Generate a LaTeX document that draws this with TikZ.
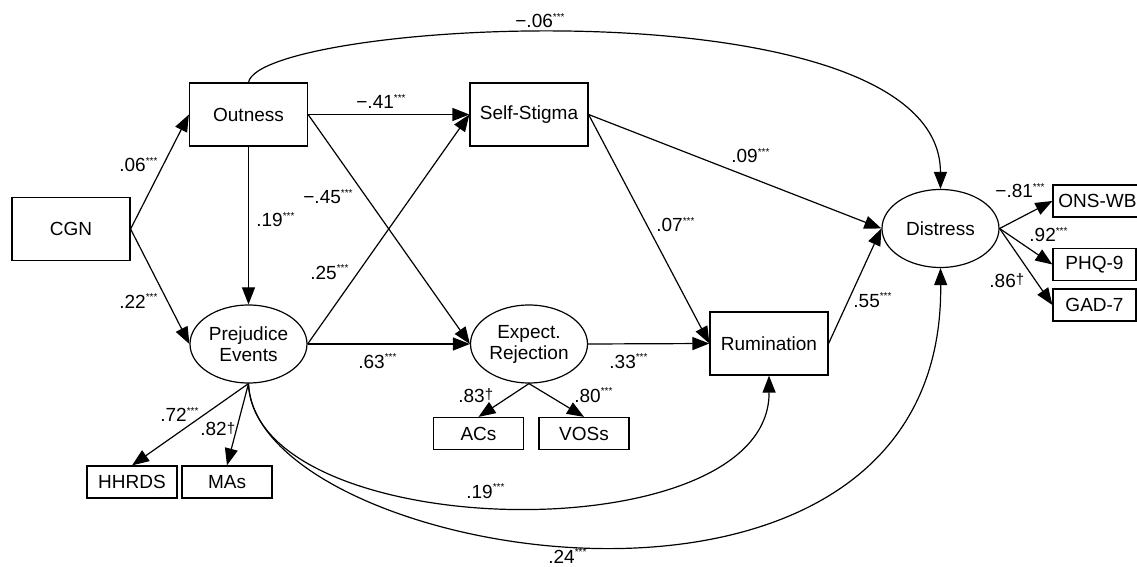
\documentclass[tikz,border=0pt]{standalone}
\usepackage{fontspec}
\setmainfont{Liberation Sans}
\usetikzlibrary{arrows.meta,shapes.geometric}
\newcommand{\sst}{\textsuperscript{\fontsize{5}{5}\selectfont ***}}
\newcommand{\dg}{\raisebox{1.2pt}{\fontsize{7.5}{7.5}\selectfont †}}
\begin{document}
\begin{tikzpicture}[x=0.5pt,y=-0.5pt,
  every node/.style={font=\fontsize{9.5}{10.5}\selectfont, inner sep=0pt},
  box/.style={draw, line width=0.6pt, rectangle, minimum width=59pt, minimum height=31.5pt},
  sbox/.style={draw, line width=0.6pt, rectangle, minimum width=45pt, minimum height=16pt},
  lat/.style={draw, line width=0.6pt, ellipse, minimum width=58.5pt, minimum height=39pt, align=center},
  lab/.style={anchor=base west},
  arr/.style={line width=0.6pt, -{Triangle[length=8.5pt,width=6.5pt]}}
]
\useasboundingbox (0,0) rectangle (1137,567);
% nodes
\node[box] (cgn) at (71,229) {CGN};
\node[box] (out) at (248.5,114.5) {Outness};
\node[box] (ss) at (529,114.5) {Self-Stigma};
\node[box] (rum) at (769,343.5) {Rumination};
\node[lat] (pe) at (248.5,344) {Prejudice\\Events};
\node[lat] (er) at (529,344) {Expect.\\Rejection};
\node[lat] (dis) at (940.5,228.5) {Distress};
\node[sbox] (hh) at (132,482) {HHRDS};
\node[sbox] (ma) at (227,482) {MAs};
\node[sbox] (ac) at (478.5,433.5) {ACs};
\node[sbox] (vo) at (584,433.5) {VOSs};
\node[sbox, minimum width=44.5pt] (ons) at (1097.5,201) {ONS-WB};
\node[sbox, minimum width=41.5pt] (phq) at (1094.5,264.5) {PHQ-9};
\node[sbox, minimum width=41.5pt] (gad) at (1094.5,305) {GAD-7};
% straight paths
\draw[arr] (cgn.east) -- (out.west);
\draw[arr] (cgn.east) -- (pe.west);
\draw[arr] (out.south) -- (pe.north);
\draw[arr] (out.east) -- (ss.west);
\draw[arr] (out.east) -- (er.west);
\draw[arr] (pe.east) -- (ss.west);
\draw[arr] (pe.east) -- (er.west);
\draw[arr] (er.east) -- (rum.west);
\draw[arr] (ss.east) -- (dis.west);
\draw[arr] (ss.east) -- (rum.west);
\draw[arr] (rum.east) -- (dis.west);
\draw[arr] (pe.south) -- (hh.north);
\draw[arr] (pe.south) -- (ma.north);
\draw[arr] (er.south) -- (ac.north);
\draw[arr] (er.south) -- (vo.north);
\draw[arr] (dis.east) -- (ons.west);
\draw[arr] (dis.east) -- (phq.west);
\draw[arr] (dis.east) -- (gad.west);
% curved paths
\draw[arr] (out.north) .. controls (260,20) and (940,-20) .. (dis.north);
\draw[arr] (pe.south) .. controls (255,545) and (770,555) .. (rum.south);
\draw[arr] (pe.south) .. controls (255,560) and (945,680) .. (dis.south);
% labels
\node[lab] (l1) at (119,172) {.06\sst};
\node[lab] (l2) at (119,308) {.22\sst};
\node[lab] (l3) at (256,227) {.19\sst};
\node[lab] (l4) at (303,204) {−.45\sst};
\node[lab] (l5) at (310,279) {.25\sst};
\node[lab] (l6) at (356,109) {−.41\sst};
\node[lab] (l7) at (515,28) {−.06\sst};
\node[lab] (l8) at (731,163) {.09\sst};
\node[lab] (l9) at (656,232) {.07\sst};
\node[lab] (l10) at (358,368) {.63\sst};
\node[lab] (l11) at (609,368) {.33\sst};
\node[lab] (l12) at (458,402) {.83\dg};
\node[lab] (l13) at (574,402) {.80\sst};
\node[lab] (l14) at (466,498) {.19\sst};
\node[lab] (l15) at (548,563) {.24\sst};
\node[lab] (l16) at (160,422) {.72\sst};
\node[lab] (l17) at (200,436) {.82\dg};
\node[lab] (l18) at (853,307) {.55\sst};
\node[lab] (l19) at (995,198) {−.81\sst};
\node[lab] (l20) at (1029,242) {.92\sst};
\node[lab] (l21) at (989,287) {.86\dg};
\end{tikzpicture}
\end{document}
